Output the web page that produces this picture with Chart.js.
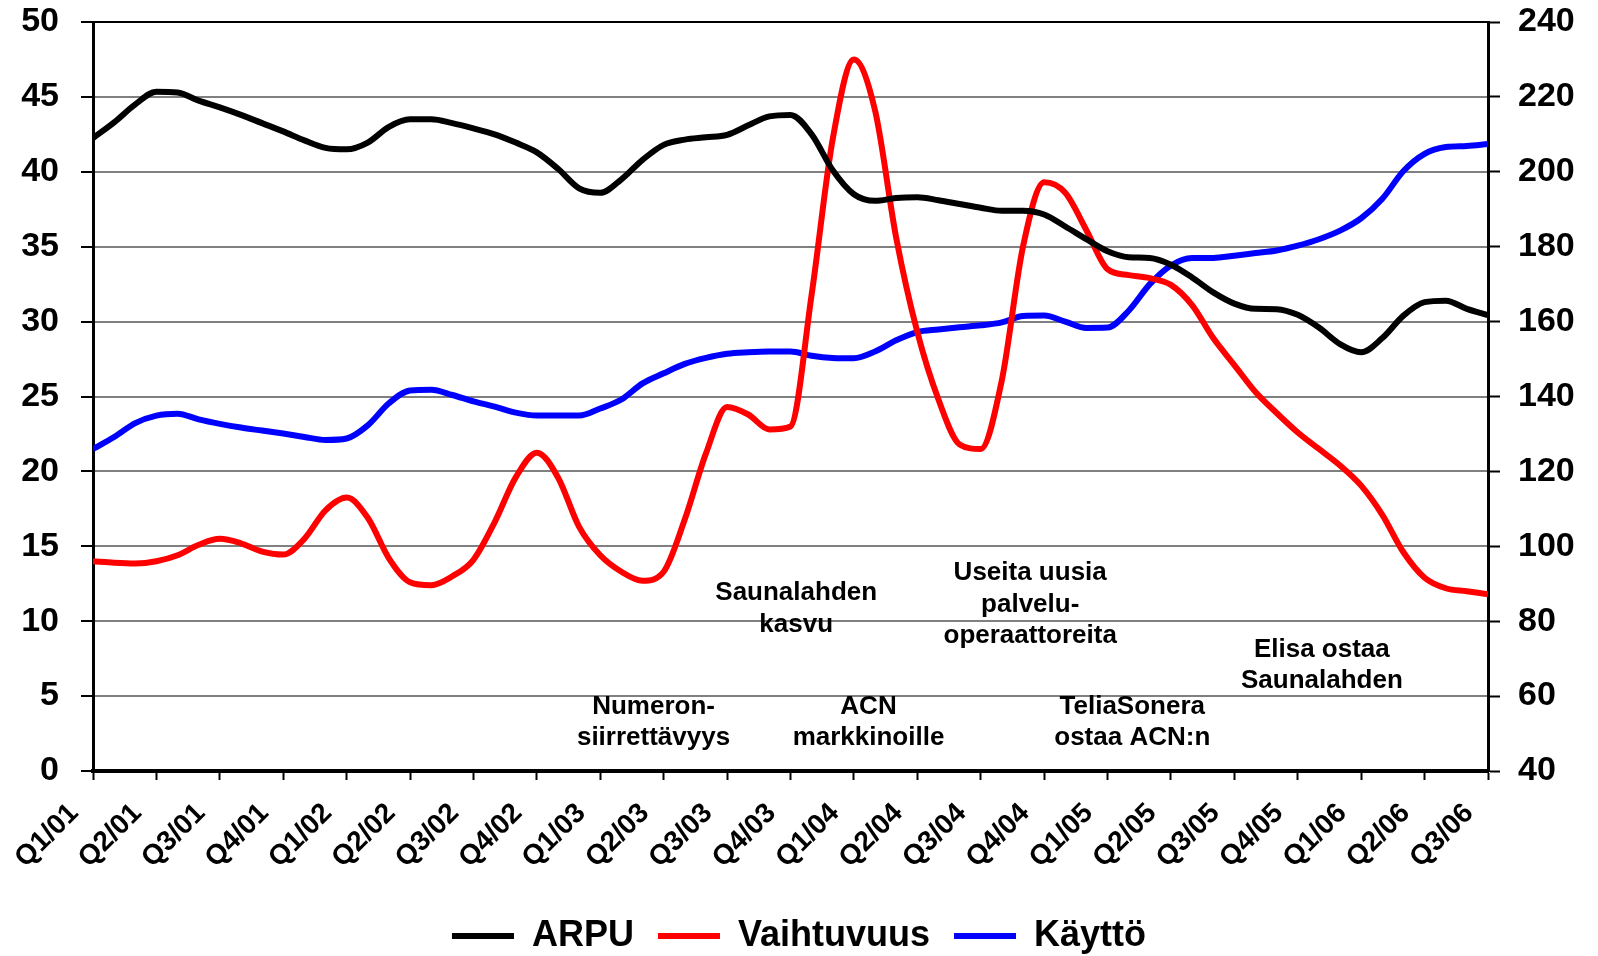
<!DOCTYPE html>
<html>
<head>
<meta charset="utf-8">
<script src="https://cdn.jsdelivr.net/npm/chart.js@4.4.1/dist/chart.umd.min.js"></script>
<style>
  html, body { margin: 0; padding: 0; background: #fff; overflow: hidden; }
</style>
</head>
<body>
<canvas id="myChart" width="1598" height="964"></canvas>
<script>
// quarter labels on the x axis
var quarters = ['Q1/01', 'Q2/01', 'Q3/01', 'Q4/01', 'Q1/02', 'Q2/02', 'Q3/02', 'Q4/02',
  'Q1/03', 'Q2/03', 'Q3/03', 'Q4/03', 'Q1/04', 'Q2/04', 'Q3/04', 'Q4/04',
  'Q1/05', 'Q2/05', 'Q3/05', 'Q4/05', 'Q1/06', 'Q2/06', 'Q3/06'];

// monthly values, Q1/01 .. Q3/06
var arpu = [42.25, 43.3, 44.5, 45.35, 45.3, 44.75, 44.3, 43.8, 43.25, 42.7,
  42.1, 41.6, 41.5, 41.95, 43.0, 43.5, 43.5, 43.25, 42.9, 42.5,
  41.95, 41.3, 40.2, 38.9, 38.6, 39.5, 40.8, 41.8, 42.15, 42.3,
  42.47, 43.1, 43.7, 43.8, 42.5, 40.1, 38.5, 38.06, 38.25, 38.3,
  38.1, 37.85, 37.6, 37.4, 37.4, 37.15, 36.35, 35.5, 34.7, 34.3,
  34.25, 33.8, 32.95, 31.95, 31.2, 30.85, 30.83, 30.45, 29.6, 28.5,
  27.95, 28.9, 30.4, 31.3, 31.4, 30.85, 30.43];

var vaihtuvuus = [14.0, 13.9, 13.85, 14.0, 14.4, 15.1, 15.5, 15.2, 14.65, 14.45,
  15.5, 17.4, 18.25, 16.9, 14.2, 12.6, 12.4, 13.0, 14.1, 16.6,
  19.6, 21.25, 19.6, 16.3, 14.4, 13.3, 12.7, 13.3, 16.8, 21.2,
  24.3, 23.8, 22.8, 23.0, 31.8, 42.2, 47.5, 44.1, 35.6, 29.3,
  24.8, 21.8, 21.5, 26.1, 35.0, 39.3, 38.6, 36.1, 33.5, 33.1,
  32.9, 32.45, 31.1, 28.9, 27.1, 25.3, 23.9, 22.6, 21.5, 20.4,
  19.05, 17.1, 14.6, 12.9, 12.2, 12.0, 11.8];

var kaytto = [126.0, 129.2, 132.9, 134.9, 135.4, 133.9, 132.7, 131.7, 130.9, 130.1,
  129.2, 128.4, 128.8, 132.3, 138.2, 141.6, 141.8, 140.4, 138.7, 137.3,
  135.7, 134.9, 134.9, 134.9, 136.8, 139.2, 143.5, 146.2, 148.7, 150.3,
  151.4, 151.8, 152.0, 152.0, 150.9, 150.3, 150.2, 152.0, 155.0, 157.2,
  157.9, 158.5, 159.0, 159.8, 161.5, 161.6, 160.0, 158.3, 158.4, 162.9,
  170.0, 175.0, 177.0, 177.0, 177.6, 178.3, 179.0, 180.3, 182.0, 184.3,
  187.6, 192.8, 200.2, 204.8, 206.6, 206.9, 207.4];

// event notes: position in quarters (x) and left-axis value (y)
var notes = [
  { lines: ['Saunalahden', 'kasvu'], q: 11.09, v: 11.89 },
  { lines: ['Useita uusia', 'palvelu-', 'operaattoreita'], q: 14.78, v: 13.23 },
  { lines: ['Elisa ostaa', 'Saunalahden'], q: 19.38, v: 8.11 },
  { lines: ['Numeron-', 'siirrettävyys'], q: 8.84, v: 4.31 },
  { lines: ['ACN', 'markkinoille'], q: 12.23, v: 4.31 },
  { lines: ['TeliaSonera', 'ostaa ACN:n'], q: 16.39, v: 4.31 }
];

var fam = '"Liberation Sans", Arial, sans-serif';

function toPoints(arr) {
  return arr.map(function (v, i) { return { x: i / 3, y: v }; });
}

var notesPlugin = {
  id: 'notes',
  afterDatasetsDraw: function (chart) {
    var c = chart.ctx, xs = chart.scales.x, ys = chart.scales.y;
    c.save();
    c.font = 'bold 26px ' + fam;
    c.fillStyle = '#000';
    c.textAlign = 'center';
    c.textBaseline = 'middle';
    notes.forEach(function (n) {
      var px = xs.getPixelForValue(n.q), py = ys.getPixelForValue(n.v);
      n.lines.forEach(function (t, k) { c.fillText(t, px, py + k * 31.7); });
    });
    c.restore();
  }
};

function fitY(w) {
  return function (s) {
    s.width = w;
    s.paddingTop = 0;
    s.paddingBottom = 0;
  };
}

var ctx = document.getElementById('myChart').getContext('2d');
var myChart = new Chart(ctx, {
  type: 'line',
  data: {
    datasets: [{
      label: 'ARPU',
      data: toPoints(arpu),
      yAxisID: 'y',
      borderWidth: 6,
      borderColor: '#000000',
      backgroundColor: '#000000'
    }, {
      label: 'Vaihtuvuus',
      data: toPoints(vaihtuvuus),
      yAxisID: 'y',
      borderWidth: 6,
      borderColor: '#ff0000',
      backgroundColor: '#ff0000'
    }, {
      label: 'Käyttö',
      data: toPoints(kaytto),
      yAxisID: 'y1',
      borderWidth: 6,
      borderColor: '#0000ff',
      backgroundColor: '#0000ff'
    }]
  },
  options: {
    responsive: false,
    animation: false,
    devicePixelRatio: 1,
    layout: { padding: { top: 22, left: 0, right: 0, bottom: 0 } },
    elements: {
      line: { tension: 0.4, cubicInterpolationMode: 'monotone', fill: false },
      point: { radius: 0, pointStyle: 'line' }
    },
    plugins: {
      tooltip: { enabled: false },
      legend: {
        position: 'bottom',
        labels: {
          usePointStyle: true,
          pointStyle: 'line',
          pointStyleWidth: 62,
          padding: 24,
          color: '#000',
          font: { family: fam, size: 36, weight: 'bold' }
        }
      }
    },
    scales: {
      x: {
        type: 'linear',
        min: 0,
        max: 22,
        afterFit: function (s) { s.height = 123; },
        ticks: {
          stepSize: 1,
          autoSkip: false,
          maxRotation: 45,
          minRotation: 45,
          padding: 17,
          labelOffset: -19,
          color: '#000',
          font: { family: fam, size: 28, weight: 'bold' },
          callback: function (v) { return quarters[v]; }
        },
        grid: { drawOnChartArea: false, tickLength: 9, tickColor: '#000', tickWidth: 2 },
        border: { color: '#000', width: 4 }
      },
      y: {
        position: 'left',
        min: 0,
        max: 50,
        afterFit: fitY(93),
        ticks: {
          stepSize: 5,
          padding: 22,
          color: '#000',
          font: { family: fam, size: 34, weight: 'bold' }
        },
        grid: {
          color: function (c) { return c.tick && c.tick.value === 50 ? '#000' : '#808080'; },
          lineWidth: 2,
          tickLength: 12,
          tickColor: '#000',
          tickWidth: 2
        },
        border: { color: '#000', width: 3 }
      },
      y1: {
        position: 'right',
        min: 40,
        max: 240,
        afterFit: fitY(110),
        ticks: {
          stepSize: 20,
          padding: 18,
          color: '#000',
          font: { family: fam, size: 34, weight: 'bold' }
        },
        grid: { drawOnChartArea: false, tickLength: 12, tickColor: '#000', tickWidth: 2 },
        border: { color: '#000', width: 3 }
      }
    }
  },
  plugins: [notesPlugin]
});
</script>
</body>
</html>
